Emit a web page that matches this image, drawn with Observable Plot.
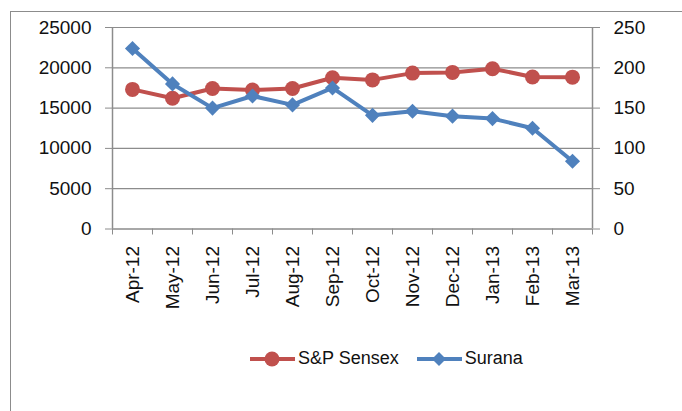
<!DOCTYPE html>
<html>
<head>
<meta charset="utf-8">
<script src="https://cdn.jsdelivr.net/npm/d3@7"></script>
<script src="https://cdn.jsdelivr.net/npm/@observablehq/plot@0.6"></script>
<style>
  html, body { margin: 0; padding: 0; background: #fff; overflow: hidden; }
  body { width: 682px; height: 411px; position: relative; font-family: "Liberation Sans", Arial, sans-serif; }
  #frame { position: absolute; left: 10px; top: 11px; width: 700px; height: 420px; border: 1.5px solid #8c8c8c; box-sizing: border-box; }
  #chart { position: absolute; left: 0; top: 0; }
  #legend { position: absolute; left: 250px; top: 348px; display: flex; align-items: center; font-size: 18px; color: #111; }
  #legend .item { display: flex; align-items: center; margin-right: 18px; }
  #legend svg { margin-right: 3px; }
</style>
</head>
<body>
<div id="frame"></div>
<div id="chart"></div>
<div id="legend"></div>
<script>
const months = ["Apr-12","May-12","Jun-12","Jul-12","Aug-12","Sep-12","Oct-12","Nov-12","Dec-12","Jan-13","Feb-13","Mar-13"];
const sensex = [17320, 16220, 17430, 17240, 17430, 18760, 18500, 19340, 19430, 19890, 18860, 18840];
const surana = [224, 180, 150, 165, 154, 175, 141, 146, 140, 137, 125, 84];
const leftTicks = [0, 5000, 10000, 15000, 20000, 25000];
const rightTicks = [0, 50, 100, 150, 200, 250];
const seriesNames = ["S&P Sensex", "Surana"];
const colors = ["#C0504D", "#4F81BD"];

const rows = months.map((m, i) => ({month: m, sensex: sensex[i], surana: surana[i]}));
const ratio = 25000 / 250; // right axis maps onto left scale

const W = 682, H = 411, ML = 112, MR = 90, MT = 27, MB = 182.5;
const step = (W - ML - MR) / months.length;
const gray = "#8c8c8c";

const plot = Plot.plot({
  width: W, height: H,
  marginLeft: ML, marginRight: MR, marginTop: MT, marginBottom: MB,
  style: {fontFamily: "Liberation Sans, Arial, sans-serif", fontSize: "19px", color: "#111", background: "transparent"},
  x: {type: "point", domain: months, padding: 0.5, label: null},
  y: {type: "linear", domain: [0, 25000], label: null},
  marks: [
    Plot.gridY(leftTicks, {stroke: gray, strokeOpacity: 1, strokeWidth: 1.2}),
    Plot.axisY(leftTicks, {anchor: "left", tickSize: 7, tickPadding: 14, stroke: gray, fontSize: 19, fill: "#111", label: null, tickFormat: d => String(d)}),
    Plot.axisY(rightTicks.map(v => v * ratio), {anchor: "right", tickSize: 7, tickPadding: 14, stroke: gray, fontSize: 19, fill: "#111", label: null, tickFormat: d => String(d / ratio)}),
    Plot.ruleX([months[0]], {x: d => d, dx: -step / 2, stroke: gray, strokeWidth: 1.5}),
    Plot.ruleX([months[months.length - 1]], {x: d => d, dx: step / 2, stroke: gray, strokeWidth: 1.5}),
    Plot.ruleY([0], {stroke: gray, strokeWidth: 1.2}),
    Plot.axisX(months, {anchor: "bottom", tickSize: 6, tickFormat: () => "", dx: -step / 2, stroke: gray, label: null}),
    Plot.axisX([months[months.length - 1]], {anchor: "bottom", tickSize: 6, tickFormat: () => "", dx: step / 2, stroke: gray, label: null}),
    Plot.axisX(months, {anchor: "bottom", tickSize: 0, tickRotate: -90, tickPadding: 17, fontSize: 19, fill: "#111", label: null}),
    Plot.line(rows, {x: "month", y: "sensex", stroke: colors[0], strokeWidth: 4}),
    Plot.dot(rows, {x: "month", y: "sensex", fill: colors[0], r: 7.5, symbol: "circle"}),
    Plot.line(rows, {x: "month", y: d => d.surana * ratio, stroke: colors[1], strokeWidth: 4}),
    Plot.dot(rows, {x: "month", y: d => d.surana * ratio, fill: colors[1], r: 6.8, symbol: "diamond2"})
  ]
});
document.getElementById("chart").appendChild(plot);

// legend
const legend = document.getElementById("legend");
seriesNames.forEach((name, i) => {
  const item = document.createElement("div");
  item.className = "item";
  const sym = i === 0
    ? `<circle cx="22" cy="10" r="7.5" fill="${colors[i]}"/>`
    : `<path d="M22,3 L29,10 L22,17 L15,10 Z" fill="${colors[i]}"/>`;
  item.innerHTML = `<svg width="45" height="20"><line x1="0" y1="10" x2="45" y2="10" stroke="${colors[i]}" stroke-width="4"/>${sym}</svg><span>${name}</span>`;
  legend.appendChild(item);
});
</script>
</body>
</html>
